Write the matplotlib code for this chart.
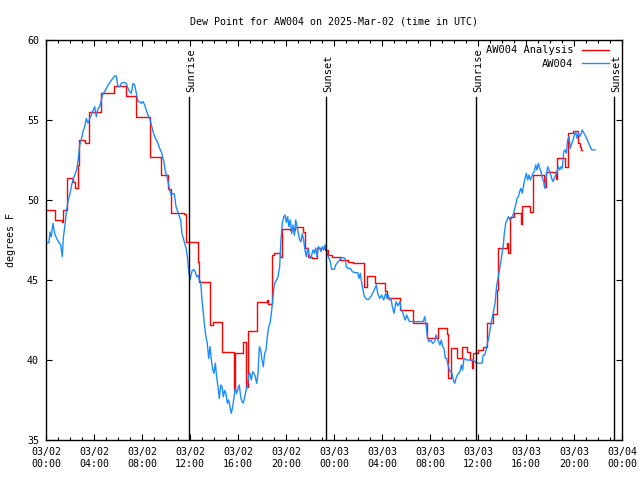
import matplotlib
matplotlib.use("Agg")
import matplotlib.pyplot as plt
from matplotlib.ticker import MultipleLocator

# hours since 2025-03-02 00:00 UTC
red_hours = [0.0, 0.75, 1.31, 1.42, 1.72, 1.78, 2.28, 2.42, 2.69, 2.78, 3.22, 3.61, 4.56, 5.67,
             6.69, 7.53, 8.67, 9.61, 10.17, 10.42, 11.5, 11.67, 12.69, 12.79, 13.67, 13.94,
             14.69, 15.67, 15.78, 16.44, 16.67, 16.81, 17.61, 18.39, 18.5, 18.81, 19.0, 19.5,
             19.64, 20.33, 20.75, 21.44, 21.58, 21.86, 22.14, 22.56, 23.25, 23.53, 23.81, 24.5,
             25.19, 25.61, 26.5, 26.72, 27.42, 28.25, 28.44, 29.5, 30.61, 31.72, 32.69, 33.39,
             33.53, 33.72, 34.28, 34.67, 35.06, 35.33, 35.47, 35.61, 36.03, 36.39, 36.72, 37.28,
             37.56, 37.69, 38.39, 38.53, 38.67, 39.03, 39.58, 39.69, 40.33, 40.61, 41.5, 41.64,
             42.47, 42.58, 43.25, 43.53, 43.94, 44.31, 44.5, 44.58, 44.67]
red_values = [49.4, 48.75, 48.6, 49.4, 50.3, 51.4, 51.1, 50.75, 52.2, 53.75, 53.56, 55.5, 56.67, 57.1,
              56.5, 55.2, 52.67, 51.56, 50.7, 49.2, 49.1, 47.4, 46.15, 44.9, 42.2, 42.4,
              40.5, 38.1, 40.45, 41.1, 38.3, 41.8, 43.6, 43.75, 43.5, 46.56, 46.7, 46.46,
              48.2, 48.1, 48.3, 48.0, 47.0, 46.46, 46.35, 47.0, 46.9, 46.56, 46.46, 46.25,
              46.15, 46.04, 44.58, 45.25, 44.83, 44.33, 43.85, 43.1, 42.3, 41.35, 41.98, 41.6,
              38.85, 40.73, 40.1, 40.8, 40.5, 40.0, 39.5, 40.45, 40.6, 40.8, 42.3, 42.9,
              44.4, 47.0, 47.3, 46.7, 48.96, 49.17, 48.5, 49.65, 49.27, 51.56, 50.83, 51.77,
              51.29, 52.65, 52.08, 54.2, 54.3, 53.54, 53.3, 53.1, 53.1]

blue_hours = [0.06, 0.25, 0.33, 0.44, 0.58, 0.72, 0.89, 1.03, 1.22, 1.36, 1.44, 1.58, 1.72, 1.86,
              2.0, 2.14, 2.28, 2.42, 2.56, 2.69, 2.81, 2.94, 3.08, 3.22, 3.36, 3.5, 3.64, 3.78,
              3.92, 4.06, 4.19, 4.33, 4.47, 4.61, 4.75, 4.89, 5.03, 5.17, 5.31, 5.44, 5.58, 5.72,
              5.86, 6.0, 6.14, 6.28, 6.42, 6.56, 6.69, 6.83, 6.97, 7.11, 7.25, 7.39, 7.53, 7.67,
              7.81, 7.94, 8.08, 8.22, 8.36, 8.5, 8.64, 8.78, 8.92, 9.06, 9.19, 9.33, 9.47, 9.61,
              9.75, 9.83, 9.92, 10.11, 10.28, 10.42, 10.56, 10.69, 10.83, 11.03, 11.22, 11.33,
              11.56, 11.67, 11.78, 11.89, 12.0, 12.08, 12.19, 12.33, 12.44, 12.56, 12.67, 12.78,
              12.89, 13.0, 13.11, 13.22, 13.33, 13.44, 13.56, 13.67, 13.78, 13.89, 14.0, 14.11,
              14.22, 14.33, 14.44, 14.56, 14.67, 14.78, 14.89, 15.0, 15.11, 15.22, 15.33, 15.44,
              15.56, 15.67, 15.78, 15.89, 16.0, 16.11, 16.22, 16.33, 16.44, 16.56, 16.67, 16.78,
              16.89, 17.0, 17.11, 17.22, 17.33, 17.44, 17.56, 17.67, 17.78, 17.89, 18.0, 18.11,
              18.22, 18.33, 18.44, 18.56, 18.67, 18.78, 18.89, 19.0, 19.11, 19.22, 19.33, 19.47,
              19.58, 19.69, 19.81, 19.92, 20.03, 20.14, 20.25, 20.36, 20.47, 20.58, 20.69, 20.81,
              20.92, 21.03, 21.14, 21.25, 21.36, 21.47, 21.58, 21.69, 21.81, 21.92, 22.03, 22.14,
              22.25, 22.36, 22.47, 22.58, 22.69, 22.81, 22.92, 23.03, 23.14, 23.25, 23.36, 23.47,
              23.58, 23.69, 23.81, 24.03, 24.14, 24.25, 24.36, 24.64, 24.92, 25.03, 25.14, 25.36,
              25.53, 25.75, 25.97, 26.08, 26.19, 26.31, 26.42, 26.53, 26.72, 26.92, 27.14, 27.36,
              27.53, 27.64, 27.81, 27.97, 28.14, 28.31, 28.42, 28.53, 28.64, 28.75, 28.86, 29.0,
              29.17, 29.31, 29.5, 29.58, 29.72, 29.83, 29.94, 30.06, 30.17, 30.28, 30.58, 30.92,
              31.25, 31.44, 31.56, 31.67, 31.78, 31.89, 32.06, 32.22, 32.39, 32.5, 32.61, 32.72,
              32.83, 32.94, 33.06, 33.17, 33.28, 33.39, 33.5, 33.61, 33.72, 33.83, 33.94, 34.06,
              34.17, 34.28, 34.5, 34.61, 34.72, 34.83, 35.08, 35.33, 35.58, 35.89, 36.08, 36.33,
              36.44, 36.56, 36.67, 36.78, 36.89, 37.0, 37.14, 37.28, 37.42, 37.56, 37.69, 37.83,
              37.97, 38.11, 38.19, 38.31, 38.42, 38.53, 38.67, 38.81, 38.92, 39.03, 39.14, 39.25,
              39.36, 39.47, 39.58, 39.69, 39.81, 39.92, 40.03, 40.14, 40.25, 40.36, 40.47, 40.58,
              40.69, 40.81, 40.92, 41.03, 41.14, 41.25, 41.36, 41.47, 41.58, 41.69, 41.81, 41.92,
              42.03, 42.14, 42.25, 42.36, 42.47, 42.58, 42.69, 42.81, 42.92, 43.03, 43.14, 43.25,
              43.36, 43.47, 43.58, 43.69, 43.81, 43.92, 44.03, 44.14, 44.25, 44.36, 44.47, 44.58,
              44.69, 44.81, 44.92, 45.06, 45.19, 45.33, 45.47, 45.75]
blue_values = [47.33, 47.33, 48.0, 47.7, 48.54, 47.9, 47.6, 47.4, 47.2, 46.46, 47.6, 48.44, 49.4, 50.0,
               50.4, 50.94, 51.35, 51.6, 51.9, 52.6, 53.44, 53.75, 54.27, 54.58, 55.1, 54.8, 55.1, 55.3,
               55.6, 55.83, 55.2, 55.7, 55.83, 56.25, 56.67, 56.77, 56.98, 57.19, 57.33, 57.48, 57.6, 57.75,
               57.75, 57.08, 57.08, 57.3, 57.33, 57.33, 57.29, 56.98, 56.77, 56.67, 57.29, 57.19, 56.67, 56.15,
               56.15, 56.04, 56.15, 55.94, 55.6, 55.3, 55.1, 54.7, 54.27, 53.96, 53.75, 53.54, 53.23, 53.02,
               52.6, 52.4, 51.9, 51.35, 50.73, 50.3, 50.4, 50.4, 49.6, 49.17, 48.75, 47.9,
               47.3, 47.0, 46.46, 45.6, 45.0, 45.3, 45.6, 45.65, 45.5, 45.2, 45.3, 45.0,
               44.9, 43.75, 42.9, 42.08, 41.46, 41.04, 40.1, 40.83, 40.0, 39.4, 39.17, 39.8,
               38.96, 38.33, 37.6, 38.44, 38.33, 37.7, 38.1, 37.9, 37.3, 37.5, 37.08, 36.67,
               37.08, 37.7, 38.23, 37.9, 38.23, 38.44, 37.7, 37.4, 37.3, 37.7, 38.1, 38.44,
               39.06, 39.17, 38.75, 39.27, 39.17, 38.96, 38.54, 39.17, 40.83, 40.63, 40.0, 39.58,
               40.42, 40.6, 41.46, 42.08, 42.29, 42.9, 43.75, 44.58, 44.9, 45.0, 45.2, 45.83,
               47.5, 48.54, 48.96, 49.06, 48.6, 48.96, 48.33, 48.75, 47.9, 48.44, 47.8, 48.75,
               48.33, 47.9, 47.5, 47.4, 47.9, 47.5, 46.88, 46.46, 47.0, 46.6, 46.35, 46.56,
               46.88, 46.67, 47.0, 46.46, 47.08, 47.0, 46.77, 47.08, 46.88, 47.19, 46.88, 46.56,
               46.35, 46.15, 45.67, 45.67, 45.94, 46.04, 46.15, 46.42, 46.35, 45.83, 45.73, 45.73,
               45.52, 45.46, 45.46, 45.1, 45.42, 44.79, 44.38, 43.96, 43.8, 43.8, 44.06, 44.38,
               44.69, 44.17, 43.85, 44.06, 43.75, 44.17, 43.85, 44.06, 43.75, 43.85, 43.33, 42.92,
               43.65, 43.4, 43.65, 43.13, 43.0, 42.71, 42.5, 42.81, 42.6, 42.4, 42.4, 42.4,
               42.4, 42.4, 42.71, 42.19, 41.46, 41.15, 41.25, 41.04, 41.15, 41.56, 41.35, 41.15,
               40.94, 41.25, 40.83, 40.73, 40.1, 40.1, 39.69, 39.38, 39.27, 39.17, 38.75, 38.54,
               38.85, 39.06, 39.27, 39.69, 39.38, 40.1, 40.0, 40.0, 40.0, 39.8, 39.8, 39.8,
               40.31, 40.31, 40.6, 41.04, 41.35, 41.88, 42.5, 43.0, 43.54, 44.69, 45.2, 45.83,
               46.46, 47.19, 47.9, 48.54, 48.75, 48.96, 48.75, 48.85, 49.06, 49.38, 49.69, 50.1,
               50.2, 50.52, 50.73, 50.42, 50.94, 51.35, 51.67, 51.25, 51.56, 51.25, 51.46, 51.67,
               51.77, 52.19, 51.88, 52.29, 51.98, 51.77, 51.35, 51.15, 50.73, 51.56, 52.08, 51.88,
               51.67, 51.35, 51.15, 51.35, 51.56, 51.77, 52.08, 51.88, 52.08, 51.98, 53.02, 53.13,
               52.92, 53.75, 53.96, 53.23, 53.54, 53.75, 54.06, 54.27, 53.85, 54.17, 53.96, 54.13,
               54.38, 54.2, 54.06, 53.85, 53.6, 53.38, 53.13, 53.13]

event_hours = [11.94, 23.33, 35.86, 47.36]
event_labels = ["Sunrise", "Sunset", "Sunrise", "Sunset"]

xtick_hours = [0, 4, 8, 12, 16, 20, 24, 28, 32, 36, 40, 44, 48]
xtick_labels = ["03/02\n00:00", "03/02\n04:00", "03/02\n08:00", "03/02\n12:00", "03/02\n16:00",
                "03/02\n20:00", "03/03\n00:00", "03/03\n04:00", "03/03\n08:00", "03/03\n12:00",
                "03/03\n16:00", "03/03\n20:00", "03/04\n00:00"]

plt.rcParams['font.family'] = ['DejaVu Sans Mono']
plt.rcParams['font.size'] = 7.2

fig = plt.figure(figsize=(6.4, 4.8), dpi=100)
ax = fig.add_axes([46 / 640, 40 / 480, 576 / 640, 400 / 480])

ax.plot(red_hours, red_values, color='#ff0000', lw=1.0, drawstyle='steps-post', label='AW004 Analysis')
ax.plot(blue_hours, blue_values, color='#1a8cff', lw=1.0, label='AW004')

for h, lab in zip(event_hours, event_labels):
    ax.axvline(h, ymax=0.857, color='black', lw=1.0)
    ax.text(h + 0.15, 0.87, lab, transform=ax.get_xaxis_transform(), rotation=90,
            ha='center', va='bottom', fontsize=7.5)

ax.set_xlim(0, 48)
ax.set_ylim(35, 60)
ax.set_xticks(xtick_hours)
ax.set_xticklabels(xtick_labels)
ax.xaxis.set_minor_locator(MultipleLocator(1))
ax.set_yticks([35, 40, 45, 50, 55, 60])
ax.tick_params(which='major', direction='in', length=4.5, width=0.8, top=True, right=True, pad=5)
ax.tick_params(which='minor', direction='in', length=2.5, width=0.8, top=True, right=True)
for s in ax.spines.values():
    s.set_linewidth(1.0)

ax.set_title("Dew Point for AW004 on 2025-Mar-02 (time in UTC)", fontsize=7.2, pad=11)
ax.set_ylabel("degrees F", labelpad=8)

ax.legend(loc='upper right', bbox_to_anchor=(0.993, 1.01), frameon=False, markerfirst=False,
          handlelength=2.6, handletextpad=0.8, labelspacing=0.35, fontsize=7.5)

fig.savefig("out.png", dpi=100)
